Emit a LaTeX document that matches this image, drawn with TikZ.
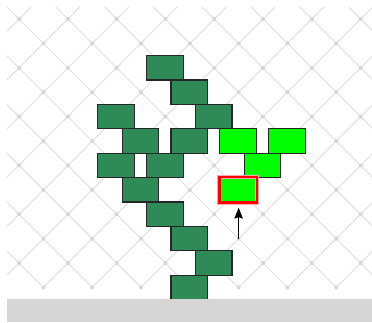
\documentclass[tikz,border=0pt]{standalone}
\usetikzlibrary{arrows.meta}
\definecolor{brickdark}{HTML}{2E8B57}
\definecolor{bricknew}{HTML}{00FF00}
\definecolor{latgray}{HTML}{D6D6D6}
\begin{document}
\begin{tikzpicture}[x=24.4pt,y=-24.4pt,
  wall/.style={draw=black!85,line width=1.2pt,fill=brickdark,inner sep=0pt,
    minimum width=36.6pt,minimum height=24.4pt},
  fresh/.style={wall,fill=bricknew},
  pick/.style={draw=red,line width=2.8pt},
  latline/.style={latgray,line width=.7pt},
  pointer/.style={-{Stealth[length=11pt,width=8.5pt,inset=1.5pt]},line width=.9pt,shorten >=5pt}]
\useasboundingbox (0,0) rectangle (15.246,13.197);
% diagonal lattice behind the wall, dots on the crossings
\begin{scope}[shift={(.78,.78)}]
  \clip (-.49,-.49) rectangle (14.47,11);
  \foreach \k in {-7,...,8} \draw[latline] (2*\k-2,-2) -- (2*\k+14,14);
  \foreach \k in {0,...,15} \draw[latline] (2*\k+2,-2) -- (2*\k-14,14);
\end{scope}
\foreach \j in {0,...,11}
  \foreach \i in {0,...,14} {
    \pgfmathtruncatemacro\oddsum{mod(\i+\j,2)}
    \ifnum\oddsum=0 \fill[latgray] (\i+.78,\j+.78) circle (.085); \fi
  }
% bricks already placed (column/row)
\foreach \c/\r in {6/0,7/1,4/2,8/2,5/3,7/3,4/4,6/4,5/5,6/6,7/7,8/8,7/9}
  \node[wall] (w-\c-\r) at (\c+.76,\r+2.78) {};
% new bricks, the chosen one framed in red
\foreach \c/\r in {9/3,11/3,10/4}
  \node[fresh] (f-\c-\r) at (\c+.76,\r+2.78) {};
\node[fresh] (sel) at (9.76,7.78) {};
\draw[red!35,line width=4.2pt] (sel.south west) rectangle (sel.north east);
\draw[pick] (sel.south west) rectangle (sel.north east);
% ground
\fill[latgray] (.287,12.24) rectangle (15.246,13.197);
\coordinate (base) at (9.78,9.78);
\draw[pointer] (base) -- (base |- sel.south);
\end{tikzpicture}
\end{document}
